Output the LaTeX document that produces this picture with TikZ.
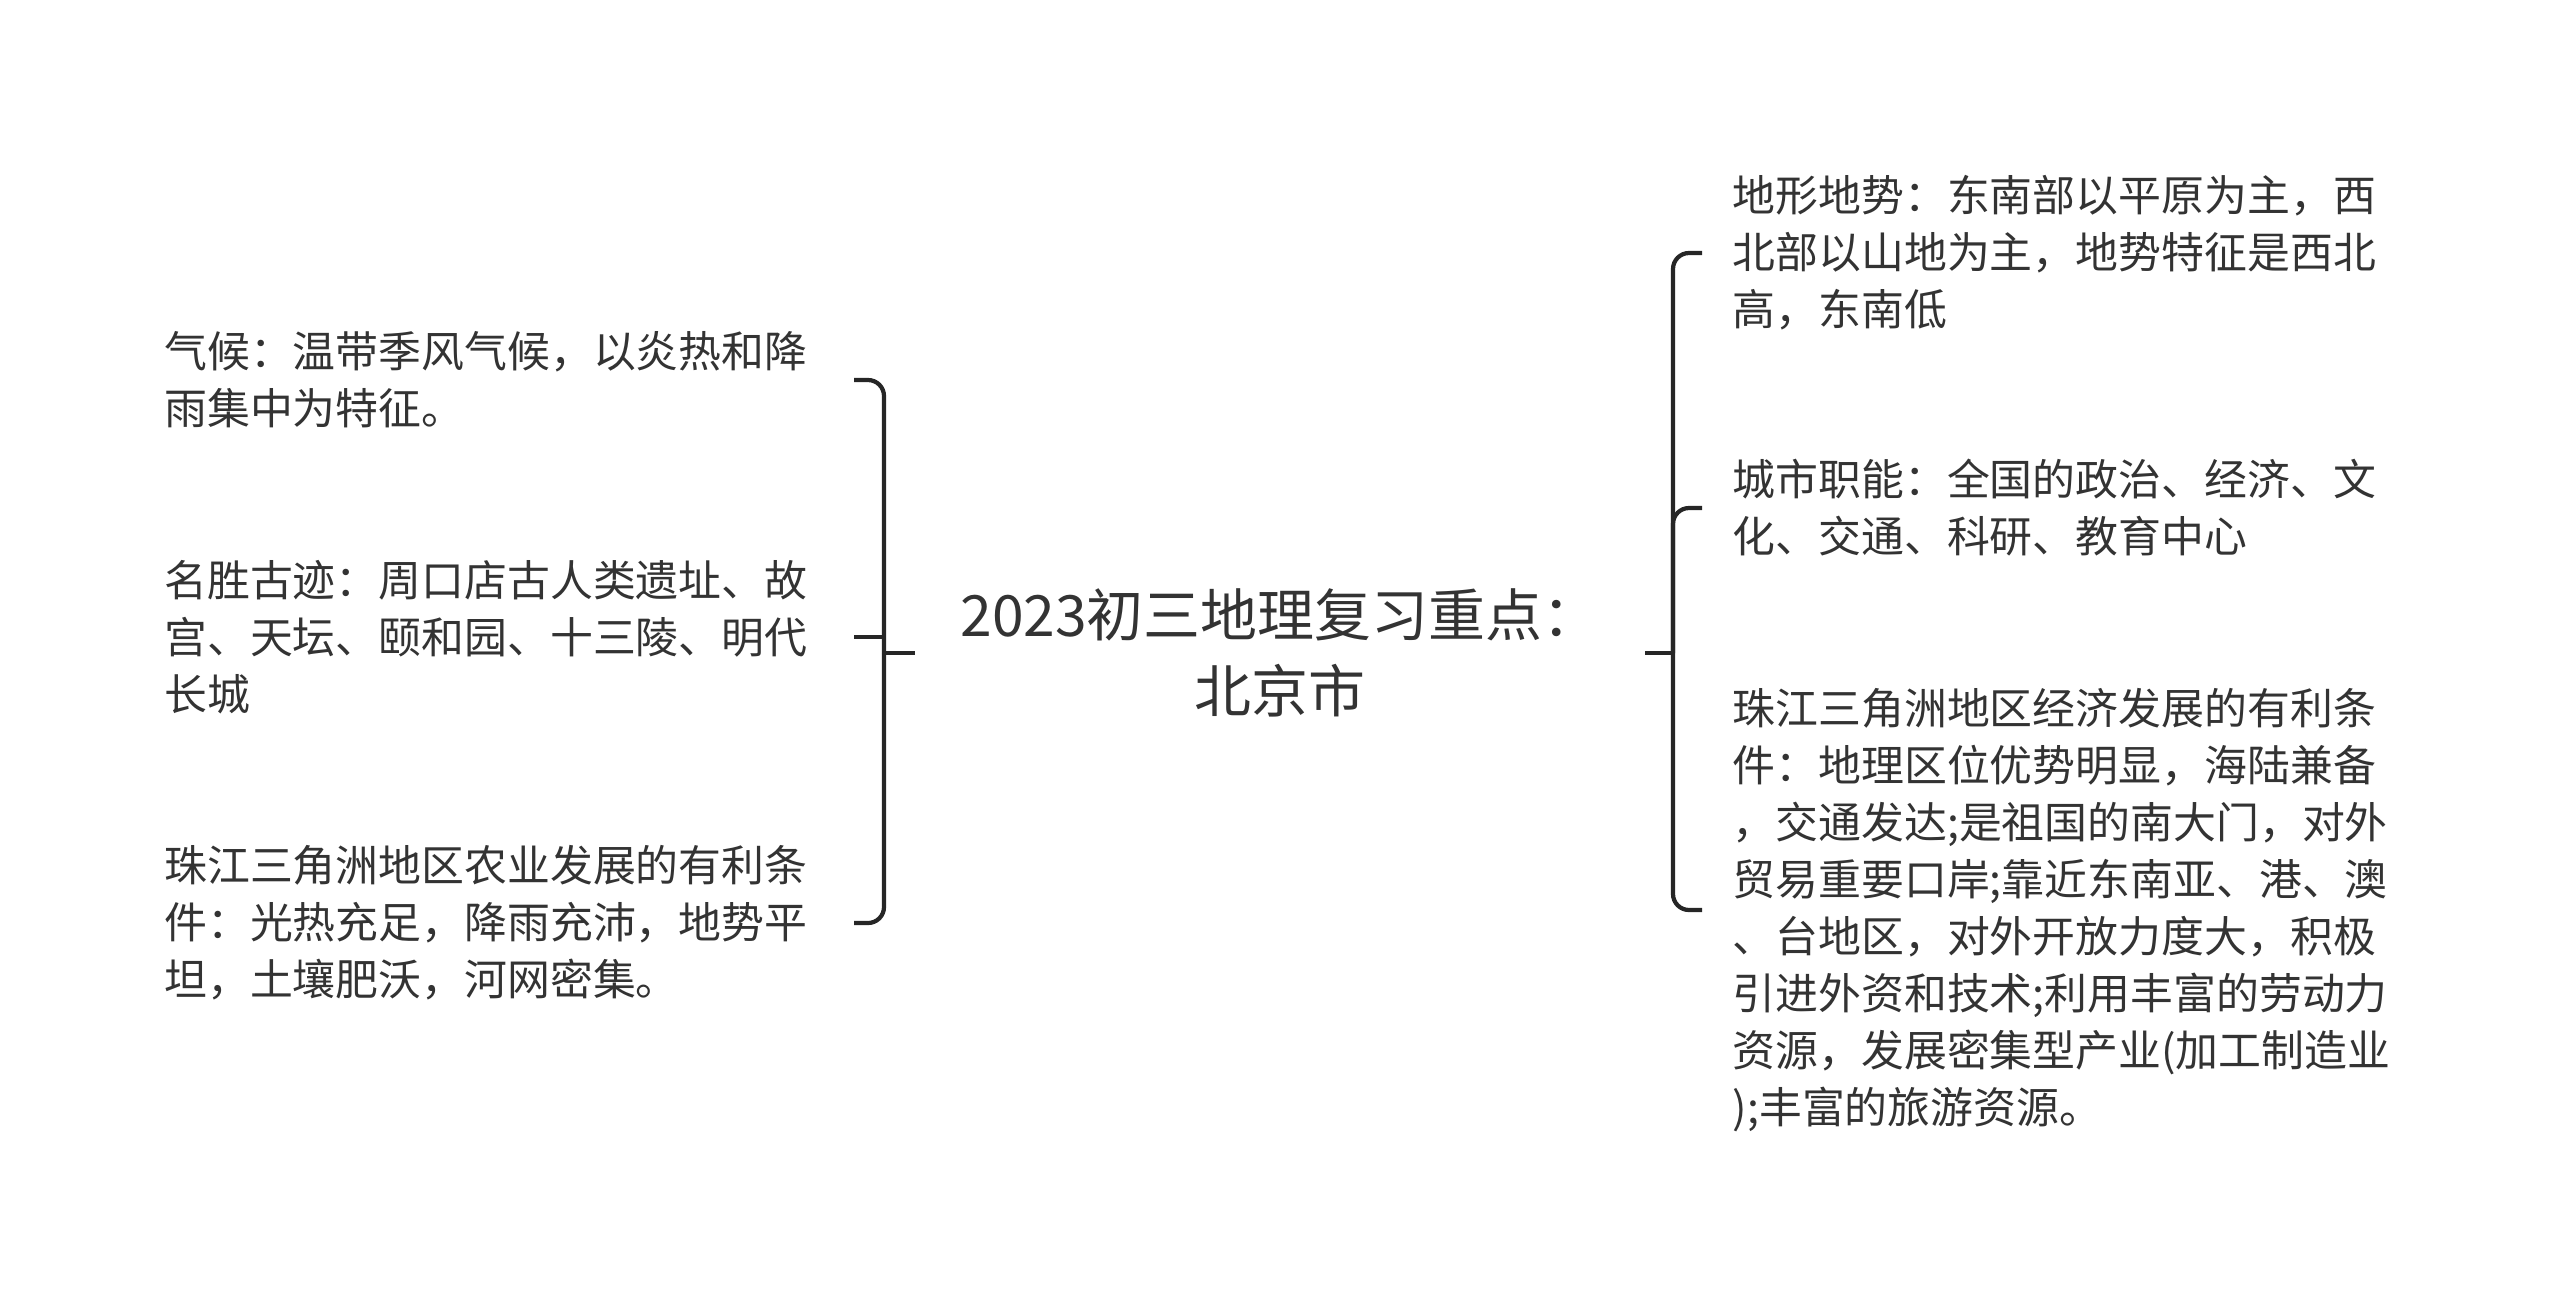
\documentclass[tikz,border=0pt]{standalone}
\usepackage{fontspec}
\setmainfont{Noto Sans CJK SC}
\usepackage{tikz}
\usetikzlibrary{positioning}
\usepackage{xcolor}
\definecolor{teks}{HTML}{333333}
\definecolor{tinta}{HTML}{262626}

\begin{document}
\begin{tikzpicture}[
    cabang/.style={inner xsep=0.3cm,inner ysep=0pt,text width=6.59cm,align=left,text=teks,font=\fontsize{12.2pt}{16.2pt}\selectfont},
    garis/.style={line width=1.2pt,draw=tinta,rounded corners=0.16cm}
]

    \useasboundingbox (0,0) rectangle (25.6,-13.04);

    % Gambar topik utama di tengah
    \node[align=center,text=teks,inner xsep=0.45cm,font=\fontsize{16.2pt}{21.8pt}\selectfont] (pusat) at (12.80,-6.53) {2023初三地理复习重点：\\北京市};

    % Gambar titik percabangan kiri dan kanan
    \coordinate (kiri) at (8.84,-6.53);
    \coordinate (kanan) at (16.73,-6.53);

    % Gambar cabang di sebelah kiri
    \node[cabang,anchor=east] (iklim) at (8.54,-3.80) {气候：温带季风气候，以炎热和降\\雨集中为特征。};
    \node[cabang,anchor=east] (wisata) at (8.54,-6.37) {名胜古迹：周口店古人类遗址、故\\宫、天坛、颐和园、十三陵、明代\\长城};
    \node[cabang,anchor=east] (pertanian) at (8.54,-9.23) {珠江三角洲地区农业发展的有利条\\件：光热充足，降雨充沛，地势平\\坦，土壤肥沃，河网密集。};

    % Gambar cabang di sebelah kanan
    \node[cabang,anchor=west] (medan) at (17.02,-2.53) {地形地势：东南部以平原为主，西\\北部以山地为主，地势特征是西北\\高，东南低};
    \node[cabang,anchor=west] (fungsi) at (17.02,-5.08) {城市职能：全国的政治、经济、文\\化、交通、科研、教育中心};
    \node[cabang,anchor=west] (ekonomi) at (17.02,-9.10) {珠江三角洲地区经济发展的有利条\\件：地理区位优势明显，海陆兼备\\，交通发达;是祖国的南大门，对外\\贸易重要口岸;靠近东南亚、港、澳\\、台地区，对外开放力度大，积极\\引进外资和技术;利用丰富的劳动力\\资源，发展密集型产业(加工制造业\\);丰富的旅游资源。};

    % Gambar garis penghubung
    \draw[garis] (pusat) -- (kiri);
    \draw[garis] (pusat) -- (kanan);
    \draw[garis] (kiri) |- (iklim.east);
    \draw[garis,sharp corners] (kiri) |- (wisata.east);
    \draw[garis] (kiri) |- (pertanian.east);
    \draw[garis] (kanan) |- (medan.west);
    \draw[garis] (kanan) |- (fungsi.west);
    \draw[garis] (kanan) |- (ekonomi.west);

\end{tikzpicture}
\end{document}
